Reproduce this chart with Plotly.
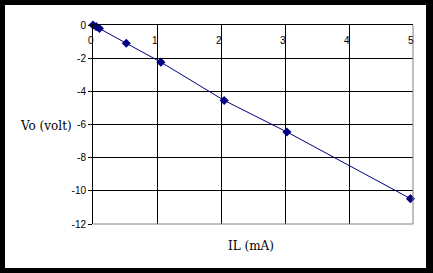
import plotly.graph_objects as go

il_ma = [0, 0.05, 0.1, 0.52, 1.06, 2.05, 3.03, 4.96]
vo_volt = [0, -0.1, -0.21, -1.1, -2.24, -4.55, -6.45, -10.47]
x_ticks = [0, 1, 2, 3, 4, 5]
x_tick_text = ["0", "1", "2", "3", "4", "5"]
y_ticks = [0, -2, -4, -6, -8, -10, -12]
y_tick_text = ["0", "-2", "-4", "-6", "-8", "-10", "-12"]

W, H = 433, 273
L, R, T, B = 93, 20, 25, 49
pw, ph = W - L - R, H - T - B

def px(xp):
    return (xp - L) / pw

def py(yp):
    return (H - B - yp) / ph

fig = go.Figure()
fig.add_trace(go.Scatter(
    x=il_ma, y=vo_volt, mode="lines+markers",
    line=dict(color="#000080", width=1),
    marker=dict(symbol="diamond", size=7, color="#000080"),
    showlegend=False, cliponaxis=False,
))

tickfont = dict(family="Liberation Sans, Arial", size=10, color="black")
titlefont = dict(family="DejaVu Serif", size=12, color="black")

annotations = [
    dict(text="Vo (volt)", xref="paper", yref="paper",
         x=px(46), y=py(126), xanchor="center", yanchor="middle",
         showarrow=False, font=titlefont),
    dict(text="IL (mA)", xref="paper", yref="paper",
         x=px(251), y=py(246), xanchor="center", yanchor="middle",
         showarrow=False, font=titlefont),
]
for v, t in zip(x_ticks, x_tick_text):
    annotations.append(dict(text=t, xref="x", yref="paper", x=v, y=py(40.5),
                            xanchor="center", yanchor="middle", xshift=-2,
                            showarrow=False, font=tickfont))

fig.update_layout(
    width=W, height=H,
    margin=dict(l=L, r=R, t=T, b=B),
    paper_bgcolor="black", plot_bgcolor="white",
    xaxis=dict(range=[0, 5], tickvals=x_ticks, side="top",
               showticklabels=False,
               showgrid=True, gridcolor="black", gridwidth=1,
               showline=True, linecolor="black", linewidth=1,
               ticks="", zeroline=False),
    yaxis=dict(range=[-12, 0], tickvals=y_ticks, ticktext=y_tick_text,
               showgrid=True, gridcolor="black", gridwidth=1,
               showline=True, linecolor="black", linewidth=1,
               ticks="outside", ticklen=4, tickcolor="black",
               zeroline=False, tickfont=tickfont),
    shapes=[
        dict(type="rect", xref="paper", yref="paper", layer="below",
             x0=px(5), x1=px(426), y0=py(268), y1=py(5),
             fillcolor="white", line=dict(width=0)),
        dict(type="line", xref="paper", yref="paper", layer="above",
             x0=1, x1=1, y0=0, y1=1, line=dict(color="#808080", width=1)),
        dict(type="line", xref="paper", yref="paper", layer="above",
             x0=0, x1=1, y0=0, y1=0, line=dict(color="#808080", width=1)),
    ],
    annotations=annotations,
)

fig.write_html("out.html")
